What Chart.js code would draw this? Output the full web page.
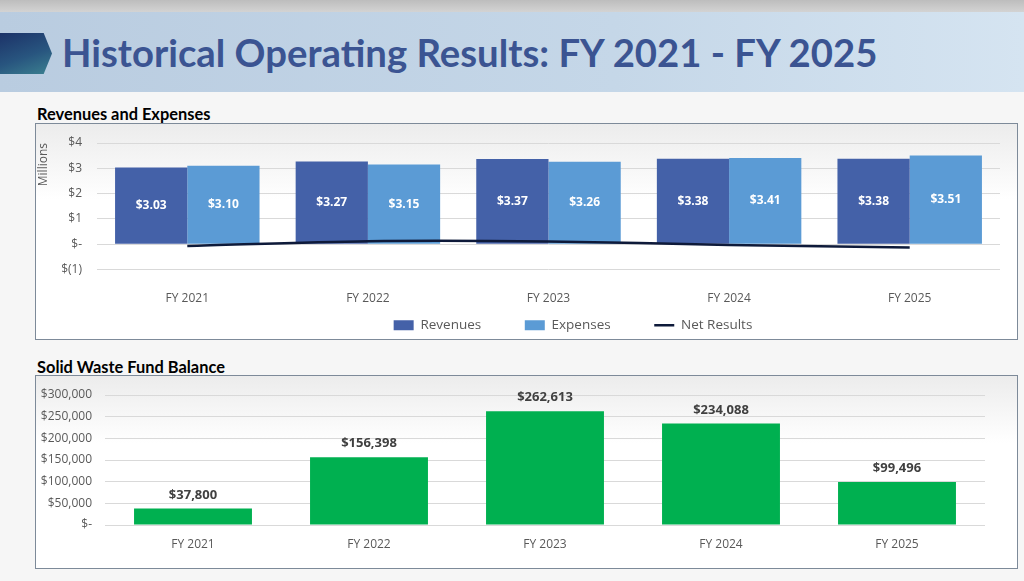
<!DOCTYPE html>
<html>
<head>
    <title>Historical Operating Results</title>
    <script src="https://cdn.jsdelivr.net/npm/chart.js@4"></script>
    <style>
        body { margin: 0; width: 1024px; height: 581px; overflow: hidden; background: #f6f6f6; font-family: "Open Sans", sans-serif; position: relative; }
        .topstrip { position: absolute; left: 0; top: 0; width: 1024px; height: 12px; background: linear-gradient(#bdbdbd, #d3d3d3); }
        .banner { position: absolute; left: 0; top: 12px; width: 1024px; height: 80px; background: linear-gradient(90deg, #b9cce0 0%, #c5d7e8 60%, #d5e4f1 100%); }
        .arrow { position: absolute; left: 0; top: 33px; width: 52px; height: 41px; background: linear-gradient(160deg, #1c3268 0%, #28557f 55%, #3c8190 100%); clip-path: polygon(0 0, 84% 0, 100% 50%, 84% 100%, 0 100%); }
        h1 { position: absolute; left: 62px; top: 29px; margin: 0; font-family: Lato, sans-serif; font-weight: bold; font-size: 38.3px; color: #3b5492; white-space: nowrap; }
        .section { position: absolute; left: 37px; margin: 0; font-family: Lato, sans-serif; font-weight: bold; font-size: 16.4px; color: #000; }
        .box { position: absolute; left: 35px; width: 981px; border: 1px solid #7d8a99; background: linear-gradient(#ececec, #ffffff 35%); }
        .box div { position: relative; width: 100%; height: 100%; }
    </style>
</head>
<body>
    <div class="topstrip"></div>
    <div class="banner"></div>
    <div class="arrow"></div>
    <h1>Historical Operating Results: FY 2021 - FY 2025</h1>

    <p class="section" style="top:104px;">Revenues and Expenses</p>
    <div class="box" style="top:123px; height:215px;"><div><canvas id="revexp"></canvas></div></div>

    <p class="section" style="top:357px;">Solid Waste Fund Balance</p>
    <div class="box" style="top:375px; height:192px;"><div><canvas id="fund"></canvas></div></div>

    <script>
        // values (millions for the top chart)
        const years = ['FY 2021', 'FY 2022', 'FY 2023', 'FY 2024', 'FY 2025'];
        const revenues = [3.03, 3.27, 3.37, 3.38, 3.38];
        const expenses = [3.10, 3.15, 3.26, 3.41, 3.51];
        const netResults = [-0.07, 0.12, 0.11, -0.03, -0.13];
        const fundBalance = [37800, 156398, 262613, 234088, 99496];

        const tickColor = '#595959';
        const gridColor = '#d9d9d9';
        const legendFont = 13.5;

        Chart.defaults.font.family = '"Open Sans", sans-serif';
        Chart.defaults.color = tickColor;
        Chart.defaults.animation = false;

        // small plugin to write the value labels on the bars
        const barLabels = {
            id: 'barLabels',
            afterDatasetsDraw(chart, args, opts) {
                const ctx = chart.ctx;
                ctx.save();
                ctx.font = 'bold ' + opts.size + 'px "Open Sans", sans-serif';
                ctx.fillStyle = opts.color;
                ctx.textAlign = 'center';
                chart.data.datasets.forEach((ds, i) => {
                    if (ds.type === 'line') return;
                    const meta = chart.getDatasetMeta(i);
                    meta.data.forEach((bar, j) => {
                        const text = opts.format(ds.data[j]);
                        if (opts.inside) {
                            ctx.textBaseline = 'middle';
                            ctx.fillText(text, bar.x, (bar.y + bar.base) / 2);
                        } else {
                            ctx.textBaseline = 'bottom';
                            ctx.fillText(text, bar.x, bar.y - 7);
                        }
                    });
                });
                ctx.restore();
            }
        };

        // excel puts the legend a bit right of centre and low in the box
        const legendShift = {
            id: 'legendShift',
            afterLayout(chart, args, opts) {
                const lg = chart.legend;
                if (!lg) return;
                lg.left += opts.dx || 0;
                lg.right += opts.dx || 0;
                lg.top += opts.dy || 0;
                lg.bottom += opts.dy || 0;
            }
        };

        // let layout.padding alone decide where the plot starts
        function noLabelOverflow(scale) {
            scale.paddingTop = 0;
            scale.paddingBottom = 0;
        }

        new Chart(document.getElementById('revexp'), {
            type: 'bar',
            data: {
                labels: years,
                datasets: [
                    { label: 'Revenues', data: revenues, backgroundColor: '#4461a8', order: 1, categoryPercentage: 0.8, barPercentage: 1.0 },
                    { label: 'Expenses', data: expenses, backgroundColor: '#5b9bd5', order: 1, categoryPercentage: 0.8, barPercentage: 1.0 },
                    { type: 'line', label: 'Net Results', data: netResults, borderColor: '#0e1a3a', backgroundColor: '#0e1a3a', borderWidth: 2.5, pointRadius: 0, tension: 0.3, order: 0 }
                ]
            },
            plugins: [barLabels, legendShift],
            options: {
                responsive: true,
                maintainAspectRatio: false,
                layout: { padding: { top: 19, right: 17, left: 0, bottom: 0 } },
                scales: {
                    x: {
                        grid: { display: false, drawTicks: false },
                        border: { display: false },
                        ticks: { padding: 22, font: { size: 12 }, color: tickColor },
                        afterFit(scale) { scale.height = 41; }
                    },
                    y: {
                        min: -1, max: 4,
                        grid: { color: gridColor, drawTicks: false },
                        border: { display: false },
                        ticks: {
                            stepSize: 1, padding: 15, font: { size: 12 }, color: tickColor,
                            callback: v => v > 0 ? '$' + v : (v === 0 ? '$-' : '$(' + (-v) + ')')
                        },
                        title: { display: true, text: 'Millions', align: 'end', font: { size: 12 }, color: tickColor, padding: 0 },
                        afterFit(scale) { scale.width = 61; noLabelOverflow(scale); }
                    }
                },
                plugins: {
                    legend: {
                        position: 'bottom',
                        labels: {
                            usePointStyle: true,
                            pointStyleWidth: 20,
                            boxHeight: 10,
                            padding: 5,
                            font: { size: legendFont },
                            color: tickColor,
                            sort: (a, b) => a.datasetIndex - b.datasetIndex,
                            generateLabels(chart) {
                                const items = Chart.defaults.plugins.legend.labels.generateLabels(chart);
                                const ctx = chart.ctx;
                                ctx.save();
                                ctx.font = legendFont + 'px "Open Sans", sans-serif';
                                items.forEach(it => {
                                    const isLine = it.datasetIndex === 2;
                                    it.pointStyle = isLine ? 'line' : 'rect';
                                    it.lineWidth = isLine ? 2.5 : 0;
                                    // equal slots like the office legend
                                    if (!isLine) {
                                        while (ctx.measureText(it.text).width < 96) it.text += ' ';
                                    }
                                });
                                ctx.restore();
                                return items;
                            }
                        }
                    },
                    legendShift: { dx: 55, dy: 3 },
                    tooltip: { enabled: false },
                    barLabels: { size: 12, color: '#ffffff', inside: true, format: v => '$' + v.toFixed(2) }
                }
            }
        });

        new Chart(document.getElementById('fund'), {
            type: 'bar',
            data: {
                labels: years,
                datasets: [
                    { label: 'Fund Balance', data: fundBalance, backgroundColor: '#00b050', categoryPercentage: 0.67, barPercentage: 1.0 }
                ]
            },
            plugins: [barLabels],
            options: {
                responsive: true,
                maintainAspectRatio: false,
                layout: { padding: { top: 19, right: 32, left: 0, bottom: 0 } },
                scales: {
                    x: {
                        grid: { display: false, drawTicks: false },
                        border: { display: false },
                        ticks: { padding: 12, font: { size: 12 }, color: tickColor },
                        afterFit(scale) { scale.height = 43; }
                    },
                    y: {
                        min: 0, max: 300000,
                        grid: { color: gridColor, drawTicks: false },
                        border: { display: false },
                        ticks: {
                            stepSize: 50000, padding: 13, font: { size: 12 }, color: tickColor,
                            callback: v => v === 0 ? '$-' : '$' + v.toLocaleString('en-US')
                        },
                        afterFit(scale) { scale.width = 69; noLabelOverflow(scale); }
                    }
                },
                plugins: {
                    legend: { display: false },
                    tooltip: { enabled: false },
                    barLabels: { size: 13, color: '#404040', inside: false, format: v => '$' + v.toLocaleString('en-US') }
                }
            }
        });
    </script>
</body>
</html>
